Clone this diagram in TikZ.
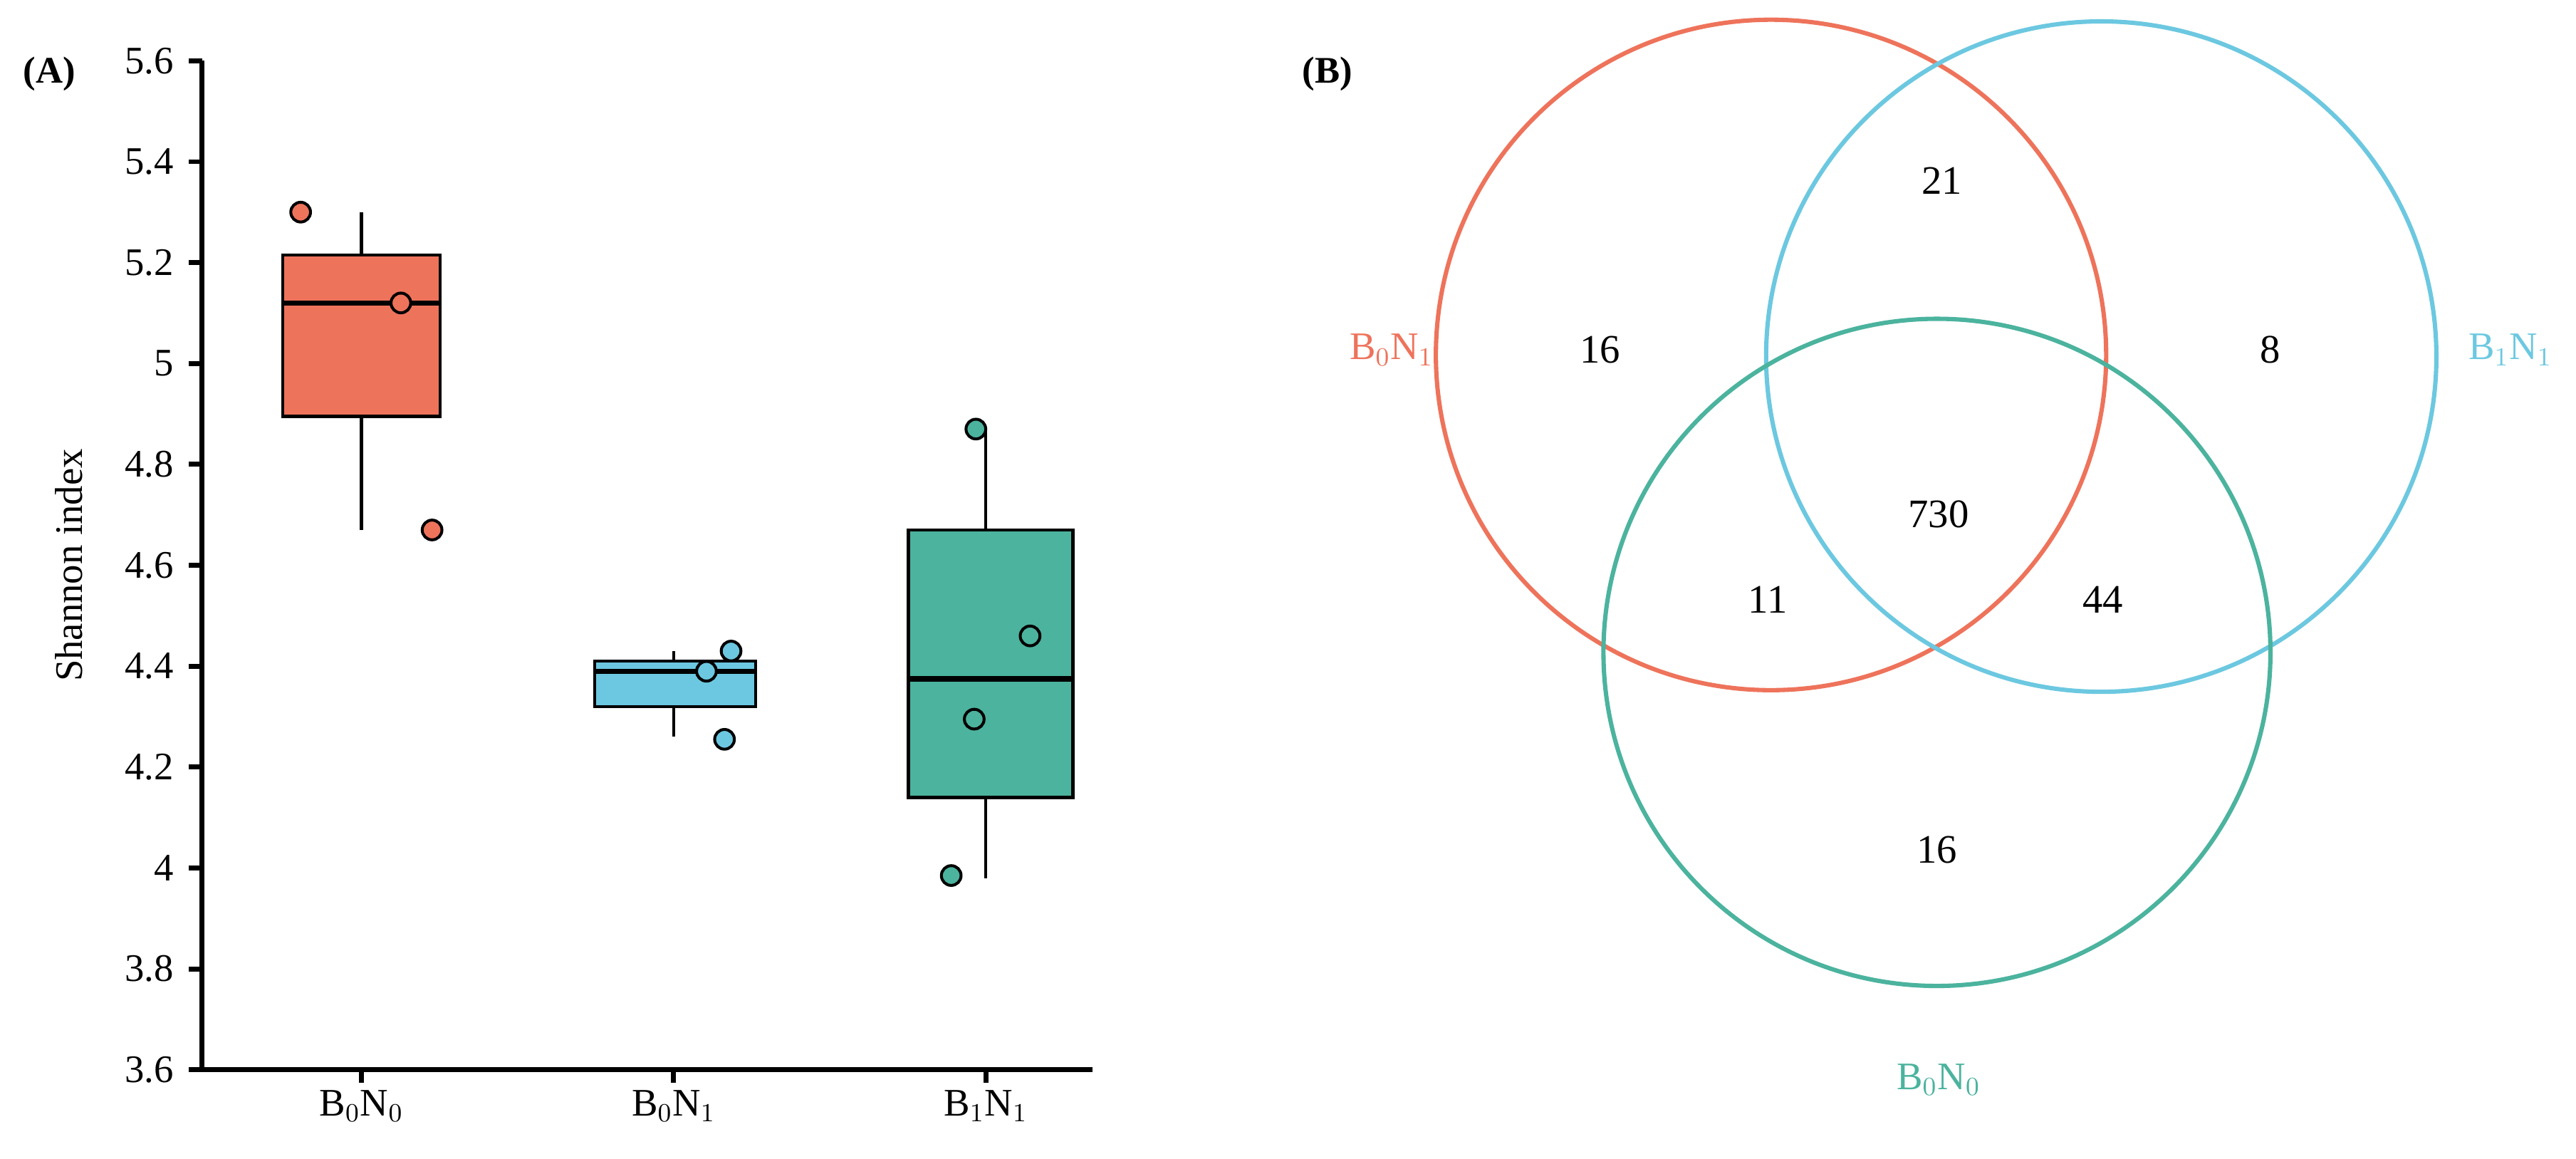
\documentclass[tikz,border=0pt]{standalone}
\usepackage{fontspec}
\setmainfont{Liberation Serif}
\definecolor{redc}{HTML}{EE735B}
\definecolor{bluec}{HTML}{6CC8E0}
\definecolor{greenc}{HTML}{4BB39E}
\newcommand{\yv}[1]{0.54+(#1-3.6)*3.07}
\begin{document}
\begin{tikzpicture}[x=2cm,y=2cm,
  axis/.style={line width=1.7pt},
  box/.style={draw=black,line width=1.1pt},
  med/.style={line width=1.8pt},
  whisk/.style={line width=1pt},
  pt/.style={circle,draw=black,line width=1pt,inner sep=0pt,minimum size=0.24cm},
  venn/.style={line width=1.5pt},
  lab/.style={font=\fontsize{13.5}{16}\selectfont},
  num/.style={font=\fontsize{14}{16}\selectfont}]
  \useasboundingbox (0,0) rectangle (15.68,7.05);
  % panel A
  \node[font=\bfseries\fontsize{13}{15}\selectfont] (A) at (0.3,6.6) {(A)};
  \coordinate (o) at (1.23,0.54);
  \coordinate (ytop) at (1.23,6.68);
  \coordinate (xend) at (6.65,0.54);
  \draw[axis] (ytop) -- (o) -- (xend);
  \foreach \v/\t in {3.6/3.6,3.8/3.8,4.0/4,4.2/4.2,4.4/4.4,4.6/4.6,4.8/4.8,5.0/5,5.2/5.2,5.4/5.4,5.6/5.6} {
    \draw[axis] (1.23,{\yv{\v}}) -- (1.15,{\yv{\v}});
    \node[lab,anchor=east] (t\t) at (1.12,{\yv{\v}}) {\t};
  }
  \node[lab,rotate=90] (ylab) at (0.42,3.61) {Shannon index};
  \foreach \x/\n/\l in {2.20/a/{B$_0$N$_0$},4.10/b/{B$_0$N$_1$},6.00/c/{B$_1$N$_1$}} {
    \draw[axis] (\x,0.54) -- (\x,0.46);
    \node[lab] (g\n) at (\x,0.32) {\l};
  }
  % boxes
  \draw[whisk] (2.20,{\yv{4.67}}) -- (2.20,{\yv{5.30}});
  \draw[box,fill=redc] (1.72,{\yv{4.895}}) rectangle (2.68,{\yv{5.215}});
  \draw[med] (1.72,{\yv{5.12}}) -- (2.68,{\yv{5.12}});
  \node[pt,fill=redc] (a1) at (1.83,{\yv{5.30}}) {};
  \node[pt,fill=redc] (a2) at (2.44,{\yv{5.12}}) {};
  \node[pt,fill=redc] (a3) at (2.63,{\yv{4.67}}) {};
  \draw[whisk] (4.10,{\yv{4.26}}) -- (4.10,{\yv{4.43}});
  \draw[box,fill=bluec] (3.62,{\yv{4.32}}) rectangle (4.60,{\yv{4.41}});
  \draw[med] (3.62,{\yv{4.39}}) -- (4.60,{\yv{4.39}});
  \node[pt,fill=bluec] (b1) at (4.30,{\yv{4.39}}) {};
  \node[pt,fill=bluec] (b2) at (4.45,{\yv{4.43}}) {};
  \node[pt,fill=bluec] (b3) at (4.41,{\yv{4.255}}) {};
  \draw[whisk] (6.00,{\yv{3.98}}) -- (6.00,{\yv{4.87}});
  \draw[box,fill=greenc] (5.53,{\yv{4.14}}) rectangle (6.53,{\yv{4.67}});
  \draw[med] (5.53,{\yv{4.375}}) -- (6.53,{\yv{4.375}});
  \node[pt,fill=greenc] (c1) at (5.94,{\yv{4.87}}) {};
  \node[pt,fill=greenc] (c2) at (6.27,{\yv{4.46}}) {};
  \node[pt,fill=greenc] (c3) at (5.93,{\yv{4.295}}) {};
  \node[pt,fill=greenc] (c4) at (5.79,{\yv{3.985}}) {};
  % panel B
  \node[font=\bfseries\fontsize{13}{15}\selectfont] (B) at (8.08,6.6) {(B)};
  \draw[venn,redc] (10.78,4.89) circle (2.04);
  \draw[venn,bluec] (12.79,4.88) circle (2.04);
  \draw[venn,greenc] (11.79,3.08) circle (2.03);
  \node[lab,text=redc] (sr) at (8.47,4.92) {B$_0$N$_1$};
  \node[lab,text=bluec] (sb) at (15.28,4.92) {B$_1$N$_1$};
  \node[lab,text=greenc] (sg) at (11.80,0.48) {B$_0$N$_0$};
  \node[num] (n21) at (11.82,5.95) {21};
  \node[num] (n16a) at (9.74,4.92) {16};
  \node[num] (n8) at (13.82,4.92) {8};
  \node[num] (n730) at (11.80,3.92) {730};
  \node[num] (n11) at (10.76,3.40) {11};
  \node[num] (n44) at (12.80,3.40) {44};
  \node[num] (n16b) at (11.79,1.88) {16};
\end{tikzpicture}
\end{document}
